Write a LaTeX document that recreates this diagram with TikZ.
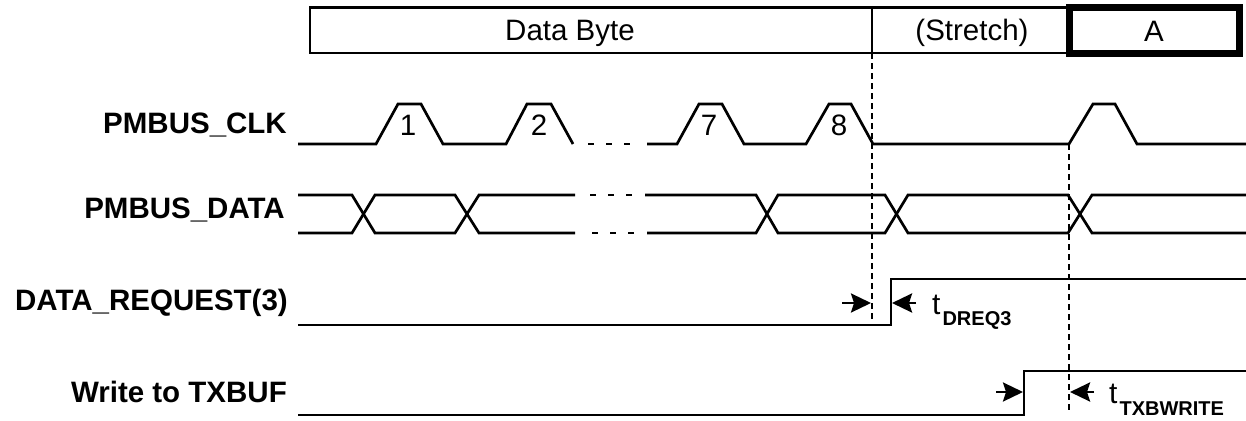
\documentclass[tikz,border=0pt]{standalone}
\usepackage{fontspec}
\setmainfont{Liberation Sans}
\usetikzlibrary{arrows.meta}
\begin{document}
\begin{tikzpicture}[x=1pt,y=-1pt,
  sig/.style={line width=2.7pt,line join=miter},
  dotsig/.style={line width=2.7pt,dash pattern=on 0pt off 15pt on 6pt off 12pt on 6pt off 12pt on 6pt off 17pt},
  vguide/.style={line width=1.5pt,dash pattern=on 6pt off 4pt},
  lbl/.style={font=\bfseries\fontsize{29.5}{34}\selectfont,anchor=base east,inner sep=0pt},
  txt/.style={font=\fontsize{29.5}{34}\selectfont,anchor=base,inner sep=0pt},
  tlbl/.style={font=\fontsize{30}{34}\selectfont,anchor=base west,inner sep=0pt},
  tarrow/.style={line width=2.7pt,-{Stealth[length=20pt,width=19pt,inset=3pt]}}]
\useasboundingbox (0,0) rectangle (1246,420);
% top boxes
\draw[line width=2.6pt] (310,7.5) rectangle (1069.5,53);
\draw[line width=2.6pt] (872,7.5) -- (872,53);
\draw[line width=7pt] (1069.5,7.5) rectangle (1239.5,53.5);
\node[txt] (db) at (570,41) {Data Byte};
\node[txt] (st) at (972,41) {(Stretch)};
\node[txt] (ack) at (1154,41.5) {A};
% signal labels
\node[lbl] (lclk) at (287,133) {PMBUS\_CLK};
\node[lbl] (ldata) at (285,218) {PMBUS\_DATA};
\node[lbl] (lreq) at (288,310) {DATA\_REQUEST(3)};
\node[lbl] (ltx) at (287,402) {Write to TXBUF};
% clock
\draw[sig] (298,144) -- (376,144) -- (398,104) -- (421,104) -- (443,144) -- (506,144)
  -- (527,104) -- (551,104) -- (573,144);
\draw[dotsig] (573,144) -- (647,144);
\draw[sig] (647,144) -- (677,144) -- (699,104) -- (722,104) -- (744,144) -- (806,144)
  -- (829,104) -- (851,104) -- (873,144) -- (1069,144) -- (1093,104) -- (1115,104)
  -- (1137,144) -- (1246,144);
\node[txt] (c1) at (408,135) {1};
\node[txt] (c2) at (539,135) {2};
\node[txt] (c7) at (709,135) {7};
\node[txt] (c8) at (839,135) {8};
% data
\draw[sig] (298,195) -- (352,195) -- (375,233) -- (455,233) -- (479,195) -- (575,195);
\draw[sig] (298,233) -- (352,233) -- (375,195) -- (455,195) -- (479,233) -- (575,233);
\draw[dotsig] (575,195) -- (645,195);
\draw[dotsig] (577,233) -- (647,233);
\draw[sig] (645,195) -- (756,195) -- (778,233) -- (885,233) -- (908,195) -- (1068,195)
  -- (1092,233) -- (1246,233);
\draw[sig] (647,233) -- (756,233) -- (778,195) -- (885,195) -- (908,233) -- (1068,233)
  -- (1092,195) -- (1246,195);
% data request
\draw[sig] (298,325) -- (891,325) -- (891,279) -- (1246,279);
% write to txbuf
\draw[sig] (298,415) -- (1024,415) -- (1024,371) -- (1246,371);
% guides
\coordinate (g1t) at (872,53);
\coordinate (g1b) at (872,322);
\coordinate (g2t) at (1069,144);
\coordinate (g2b) at (1069,411);
\draw[vguide] (g1t) -- (g1b);
\draw[vguide] (g2t) -- (g2b);
% timing arrows
\coordinate (a1s) at (842,303); \coordinate (a1e) at (871,303);
\coordinate (a2s) at (916,303); \coordinate (a2e) at (892,303);
\coordinate (a3s) at (996,392); \coordinate (a3e) at (1023,392);
\coordinate (a4s) at (1094,392); \coordinate (a4e) at (1070,392);
\draw[tarrow] (a1s) -- (a1e);
\draw[tarrow] (a2s) -- (a2e);
\draw[tarrow] (a3s) -- (a3e);
\draw[tarrow] (a4s) -- (a4e);
\node[tlbl] (tdreq) at (932,314) {t\kern2pt\raisebox{-11pt}{\bfseries\fontsize{20}{22}\selectfont DREQ3}};
\node[tlbl] (ttxb) at (1109,403) {t\kern2pt\raisebox{-12pt}{\bfseries\fontsize{20}{22}\selectfont TXBWRITE}};
\end{tikzpicture}
\end{document}
